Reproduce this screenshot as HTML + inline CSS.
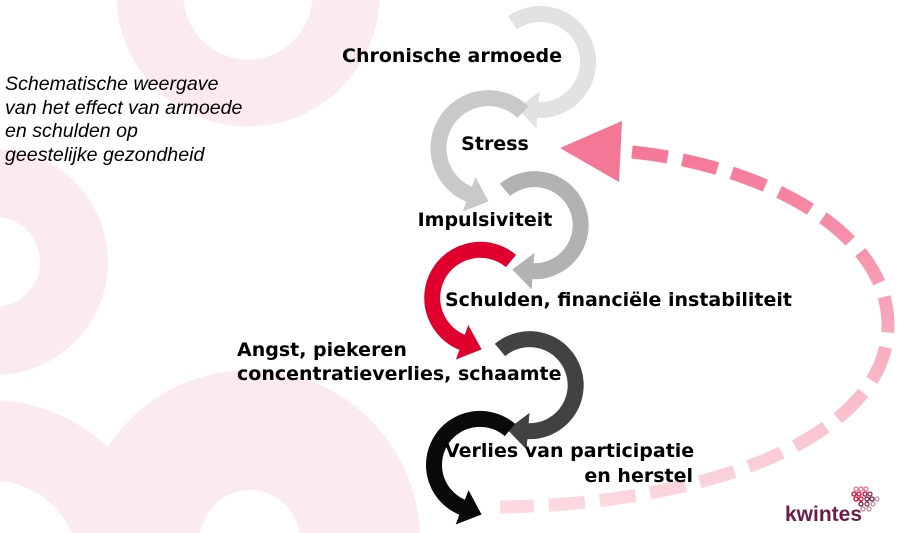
<!DOCTYPE html>
<html><head><meta charset="utf-8"><style>
html,body{margin:0;padding:0;background:#fff;overflow:hidden;width:919px;height:533px;}
svg{display:block;}
.b{font-family:"DejaVu Sans","Liberation Sans",sans-serif;font-weight:bold;font-size:19px;fill:#000;}
.i{font-family:"Liberation Sans",sans-serif;font-style:italic;font-size:19.6px;fill:#000;}
</style></head><body>
<svg width="919" height="533" viewBox="0 0 919 533" xmlns="http://www.w3.org/2000/svg">
<defs>
<linearGradient id="pg" x1="0" y1="140" x2="0" y2="520" gradientUnits="userSpaceOnUse">
<stop offset="0" stop-color="#f57595"/><stop offset="1" stop-color="#fcdde3"/>
</linearGradient>
<marker id="ah" viewBox="0 0 10 10" preserveAspectRatio="none" refX="1" refY="5" markerWidth="1.3" markerHeight="2.3" orient="auto" markerUnits="strokeWidth">
<path d="M0,0 L10,5 L0,10 z" fill="context-stroke"/>
</marker>
</defs>
<g fill="none" stroke="#fcebee">
<circle cx="248" cy="-5" r="98" stroke-width="67"/>
<circle cx="-5" cy="262" r="79" stroke-width="68"/>
<circle cx="250" cy="540" r="110" stroke-width="120"/>
<circle cx="-10" cy="570" r="130" stroke-width="80"/>
</g>
<path d="M 632 152 C 760 165, 888 230, 888 325 C 888 440, 700 505, 500 507" fill="none" stroke="url(#pg)" stroke-width="13" stroke-dasharray="36 15"/>
<polygon points="560,148 622,121 619,182" fill="#f47896"/>
<g fill="none" stroke-width="16">
<path d="M 512.5 22.7 A 48 48 0 1 1 535.8 109.8" stroke="#e2e2e2" marker-end="url(#ah)"/>
<path d="M 523 112 A 50 50 0 1 0 471 195" stroke="#c9c9c9" marker-end="url(#ah)"/>
<path d="M 505 190 A 46 46 0 1 1 531 271" stroke="#b2b2b2" marker-end="url(#ah)"/>
<path d="M 511 261 A 48 48 0 1 0 464 343" stroke="#e0002d" marker-end="url(#ah)"/>
<path d="M 500 350 A 46 46 0 1 1 526 431" stroke="#424242" marker-end="url(#ah)"/>
<path d="M 510 430 A 46 46 0 1 0 464 508" stroke="#0a0a0a" marker-end="url(#ah)"/>
</g>
<text class="b" x="452" y="62" text-anchor="middle">Chronische armoede</text>
<text class="b" x="495" y="150" text-anchor="middle">Stress</text>
<text class="b" x="485" y="226" text-anchor="middle">Impulsiviteit</text>
<text class="b" x="445" y="306">Schulden, financiële instabiliteit</text>
<text class="b" x="237" y="356">Angst, piekeren</text>
<text class="b" x="237" y="380">concentratieverlies, schaamte</text>
<text class="b" x="445" y="457">Verlies van participatie</text>
<text class="b" x="693" y="482" text-anchor="end">en herstel</text>
<text class="i" x="5" y="90">Schematische weergave</text>
<text class="i" x="5" y="114">van het effect van armoede</text>
<text class="i" x="5" y="137">en schulden op</text>
<text class="i" x="5" y="161">geestelijke gezondheid</text>
<text x="785" y="521" font-family="Liberation Sans,sans-serif" font-size="21" font-weight="bold" fill="#6b1d45">kwintes</text>
<g fill="none" stroke-width="1.3">
<circle cx="856" cy="489" r="2" stroke="#f0708a"/><circle cx="861" cy="489" r="2" stroke="#f0708a"/><circle cx="866" cy="489" r="2" stroke="#f0708a"/>
<circle cx="854" cy="494" r="2" stroke="#e0002d"/><circle cx="859" cy="494" r="2" stroke="#e0002d"/><circle cx="865" cy="494" r="2" stroke="#e0002d"/><circle cx="870" cy="494" r="2" stroke="#8a2a50"/>
<circle cx="856" cy="499" r="2" stroke="#e0002d"/><circle cx="861" cy="499" r="2" stroke="#e0002d"/><circle cx="867" cy="499" r="2" stroke="#6b1d45"/><circle cx="872" cy="499" r="2" stroke="#6b1d45"/><circle cx="877" cy="499" r="2" stroke="#c08aa0"/>
<circle cx="861" cy="504" r="2" stroke="#6b1d45"/><circle cx="867" cy="504" r="2" stroke="#8a2a50"/><circle cx="873" cy="504" r="2" stroke="#c08aa0"/>
<circle cx="863" cy="509" r="2" stroke="#c08aa0"/><circle cx="869" cy="509" r="2" stroke="#c08aa0"/>
</g>
</svg>
</body></html>
